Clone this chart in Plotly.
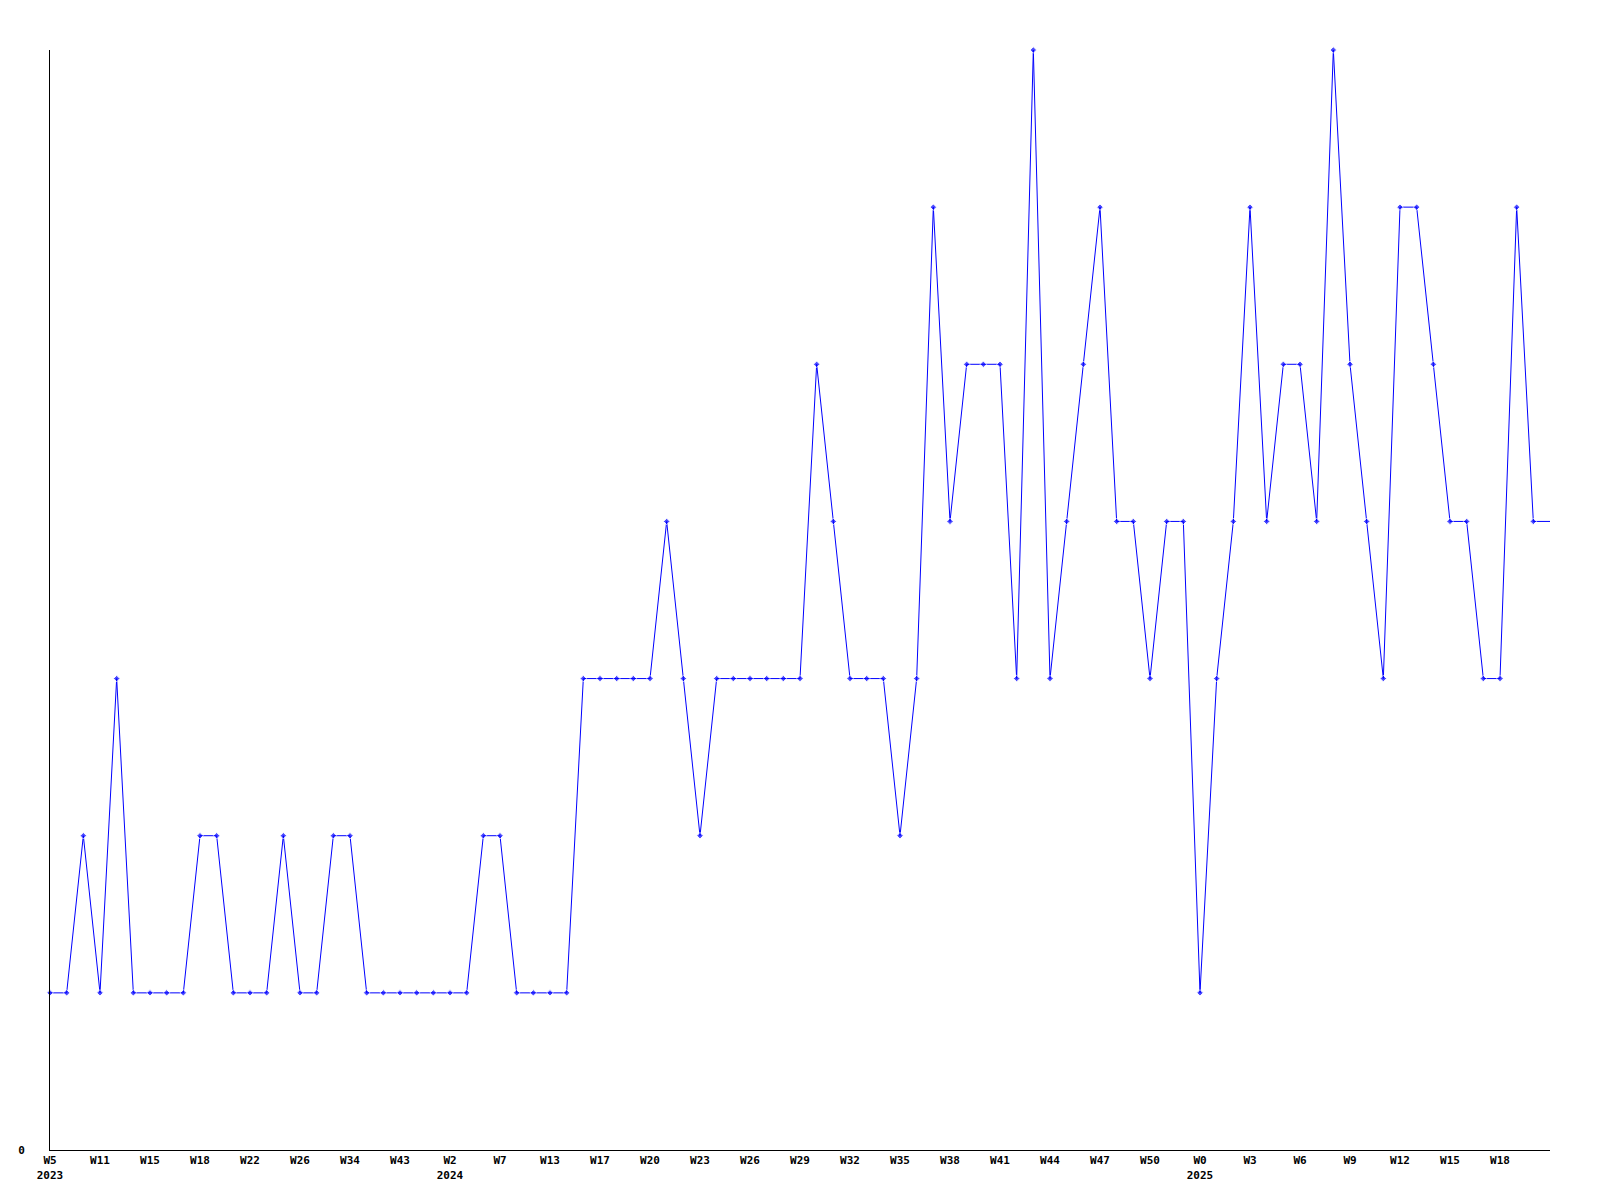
import plotly.graph_objects as go

# Weekly values (91 points)
values = [
    1, 1, 2, 1, 3, 1, 1, 1, 1, 2,
    2, 1, 1, 1, 2, 1, 1, 2, 2, 1,
    1, 1, 1, 1, 1, 1, 2, 2, 1, 1,
    1, 1, 3, 3, 3, 3, 3, 4, 3, 2,
    3, 3, 3, 3, 3, 3, 5, 4, 3, 3,
    3, 2, 3, 6, 4, 5, 5, 5, 3, 7,
    3, 4, 5, 6, 4, 4, 3, 4, 4, 1,
    3, 4, 6, 4, 5, 5, 4, 7, 5, 4,
    3, 6, 6, 5, 4, 4, 3, 3, 6, 4,
    4,
]

# Tick labels shown every 3rd point
week_labels = ["W5", "W11", "W15", "W18", "W22", "W26", "W34", "W43", "W2", "W7",
               "W13", "W17", "W20", "W23", "W26", "W29", "W32", "W35", "W38", "W41",
               "W44", "W47", "W50", "W0", "W3", "W6", "W9", "W12", "W15", "W18"]
year_labels = {0: "2023", 8: "2024", 23: "2025"}
tick_step = 3

n = len(values)
x = list(range(n))
tickvals = [i * tick_step for i in range(len(week_labels))]
ticktext = [w + ("<br>" + year_labels[i] if i in year_labels else "")
            for i, w in enumerate(week_labels)]

marker_sizes = [5] * (n - 1) + [0]

font = dict(family="DejaVu Sans Mono", size=11, color="black", weight="bold")

fig = go.Figure(go.Scatter(
    x=x, y=values, mode="lines+markers",
    line=dict(color="#0000FF", width=1),
    marker=dict(color="#0000FF", size=marker_sizes, symbol="diamond"),
    cliponaxis=False,
    hoverinfo="skip",
))

# page body has an 8px default margin; compensate so the plot area sits at 50..1550 x 50..1150
fig.update_layout(
    width=1592, height=1192,
    margin=dict(l=42, r=50, t=42, b=50, autoexpand=False),
    plot_bgcolor="white", paper_bgcolor="white",
    showlegend=False,
    xaxis=dict(
        range=[0, n - 1], showgrid=False, zeroline=False,
        showline=True, linecolor="black", linewidth=1,
        tickmode="array", tickvals=tickvals, ticktext=ticktext,
        ticks="", tickfont=font, tickangle=0,
    ),
    yaxis=dict(
        range=[0, 7], showgrid=False, zeroline=False,
        showline=True, linecolor="black", linewidth=1,
        tickmode="array", tickvals=[0], ticktext=["0"],
        ticks="", tickfont=font, ticklabelstandoff=22,
    ),
)

fig.write_html("out.html")
